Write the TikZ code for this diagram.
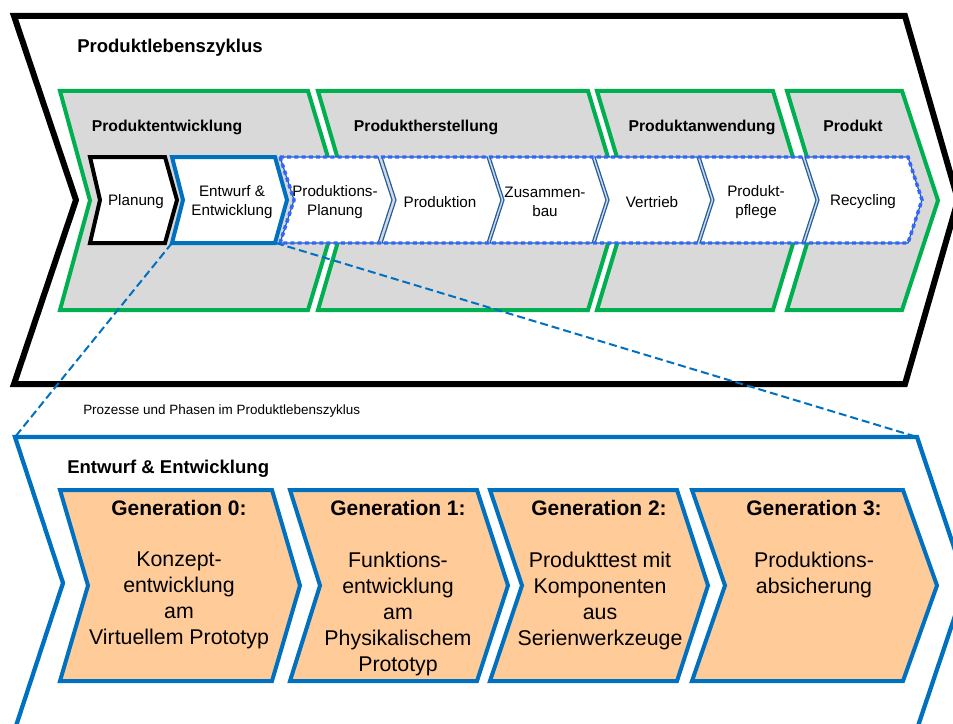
\documentclass[tikz,border=0pt]{standalone}
\usepackage{fontspec}
\setmainfont{Liberation Sans}

\definecolor{phasegreen}{HTML}{00B050}
\definecolor{phasegray}{HTML}{D9D9D9}
\definecolor{designblue}{HTML}{0070C0}
\definecolor{dotblue}{HTML}{3366FF}
\definecolor{procblue}{HTML}{1F5FA8}
\definecolor{genorange}{HTML}{FFCC99}

% arrow band: style, left, right, top, bottom, notch depth, tip depth
\newcommand{\chevshape}[7]{%
  \path[#1] (#2,#4) -- (#3,#4) -- ({#3+#7},{(#4+#5)/2}) -- (#3,#5)
    -- (#2,#5) -- ({#2+#6},{(#4+#5)/2}) -- cycle;}

\begin{document}
\begin{tikzpicture}[x=0.75pt,y=-0.75pt]
        \tikzset{lifecycle/.style = {draw=black, fill=white, line width=4.5pt},
                 phase/.style = {draw=phasegreen, fill=phasegray, line width=3pt},
                 planbox/.style = {draw=black, fill=white, line width=3pt},
                 designbox/.style = {draw=designblue, fill=white, line width=3pt},
                 procbox/.style = {draw=procblue, fill=white, line width=0.9pt},
                 dotframe/.style = {draw=dotblue, line width=2.6pt, dash pattern=on 3pt off 2.4pt},
                 detail/.style = {draw=designblue, line width=3.2pt},
                 genbox/.style = {draw=designblue, fill=genorange, line width=3pt},
                 zoomline/.style = {draw=designblue, line width=1.5pt, dash pattern=on 6pt off 3pt},
                 heading/.style = {inner sep=0, font=\fontsize{13.9}{16}\selectfont\bfseries},
                 phaselabel/.style = {inner sep=0, font=\fontsize{11.8}{14}\selectfont\bfseries},
                 proc/.style = {inner sep=0, align=center, font=\fontsize{11.4}{14.25}\selectfont},
                 caption/.style = {inner sep=0, font=\fontsize{10.1}{12}\selectfont},
                 gentitle/.style = {inner sep=0, font=\fontsize{15.75}{18}\selectfont\bfseries},
                 genbody/.style = {inner sep=0, align=center, font=\fontsize{16}{19.5}\selectfont}}
        \useasboundingbox (0,0) rectangle (953,724);
        \clip (0,0) rectangle (953,724);

        % product life cycle
        \chevshape{lifecycle}{14}{905}{16}{384}{62}{53}
        \node[heading, anchor=base west] (plz) at (77,53) {Produktlebenszyklus};

        % phases
        \chevshape{phase}{60}{308}{91}{310}{30}{33}
        \chevshape{phase}{318}{588}{91}{310}{32}{33}
        \chevshape{phase}{597}{773}{91}{310}{33}{33}
        \chevshape{phase}{787}{902}{91}{310}{33}{36}
        \node[phaselabel, anchor=base] (pe) at (167,132) {Produktentwicklung};
        \node[phaselabel, anchor=base] (ph) at (426,132) {Produktherstellung};
        \node[phaselabel, anchor=base] (pa) at (702,132) {Produktanwendung};
        \node[phaselabel, anchor=base] (pr) at (853,132) {Produkt};

        % processes
        \chevshape{planbox}{90}{165}{157}{243}{10}{12}
        \chevshape{designbox}{172}{275}{157}{243}{11}{12}
        \chevshape{fill=phasegray}{280}{908}{157}{243}{14}{14}
        \chevshape{procbox}{280}{378}{157}{243}{14}{14}
        \chevshape{procbox}{382}{487}{157}{243}{14}{14}
        \chevshape{procbox}{490}{592}{157}{243}{14}{14}
        \chevshape{procbox}{595}{697}{157}{243}{14}{14}
        \chevshape{procbox}{700}{802}{157}{243}{14}{14}
        \chevshape{procbox}{805}{908}{157}{243}{14}{14}
        \chevshape{dotframe}{280}{908}{157}{243}{14}{14}
        \coordinate (ent-sw) at (172,243);
        \coordinate (ent-se) at (276,243);

        \node[proc] (planung) at (136,202) {Planung};
        \node[proc] (entwurf) at (232,202) {Entwurf \&\\Entwicklung};
        \node[proc] (pplanung) at (335,202) {Produktions-\\Planung};
        \node[proc] (produktion) at (440,202) {Produktion};
        \node[proc] (zusammenbau) at (545,202) {Zusammen-\\bau};
        \node[proc] (vertrieb) at (652,202) {Vertrieb};
        \node[proc] (pflege) at (756,202) {Produkt-\\pflege};
        \node[proc] (recycling) at (863,202) {Recycling};

        \node[caption, anchor=base west] (cap) at (83,414) {Prozesse und Phasen im Produktlebenszyklus};

        % design and development in detail
        \chevshape{detail}{15}{917}{437}{729}{48}{49}
        \coordinate (det-nw) at (15,437);
        \coordinate (det-ne) at (917,437);
        \node[heading, anchor=base west] (ee) at (67,473) {Entwurf \& Entwicklung};

        \chevshape{genbox}{60}{272}{490}{681}{28}{28}
        \chevshape{genbox}{290}{477}{490}{681}{30}{31}
        \chevshape{genbox}{490}{677}{490}{681}{32}{31}
        \chevshape{genbox}{692}{903}{490}{681}{33}{34}

        \node[gentitle, anchor=base] (g0) at (179,515) {Generation 0:};
        \node[gentitle, anchor=base] (g1) at (398,515) {Generation 1:};
        \node[gentitle, anchor=base] (g2) at (599,515) {Generation 2:};
        \node[gentitle, anchor=base] (g3) at (814,515) {Generation 3:};
        \node[genbody, anchor=north] (g0text) at (179,551.5) {Konzept-\\entwicklung\\am\\Virtuellem Prototyp};
        \node[genbody, anchor=north] (g1text) at (398,551.5) {Funktions-\\entwicklung\\am\\Physikalischem\\Prototyp};
        \node[genbody, anchor=north] (g2text) at (600,551.5) {Produkttest mit\\Komponenten\\aus\\Serienwerkzeuge};
        \node[genbody, anchor=north] (g3text) at (814,551.5) {Produktions-\\absicherung};

        % zoom lines
        \draw[zoomline] (ent-sw) -- (det-nw);
        \draw[zoomline] (ent-se) -- (det-ne);
\end{tikzpicture}
\end{document}
